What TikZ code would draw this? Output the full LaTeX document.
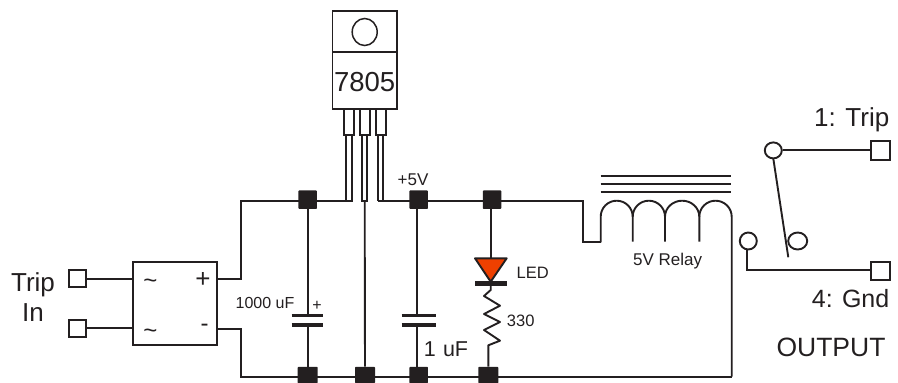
\documentclass[tikz,border=0pt]{standalone}
\usepackage{fontspec}
\usetikzlibrary{shapes.geometric}
\setmainfont{Liberation Sans}
\definecolor{ink}{HTML}{231F20}
\definecolor{ledred}{HTML}{EE4000}
\tikzset{
  wire/.style={draw=ink,line width=1.9pt,line join=miter},
  junc/.style={rectangle,fill=ink,draw=none,minimum width=#1,minimum height=18.5pt,inner sep=0pt,rounded corners=0.8pt},
  junc/.default=18.5pt,
  term/.style={rectangle,draw=ink,fill=white,line width=1.9pt,minimum width=17pt,minimum height=17pt,inner sep=0pt},
  plate/.style={draw=ink,line width=3.6pt},
  lbl/.style={text=ink,inner sep=0pt,align=center},
}
\newcommand{\fs}[1]{\fontsize{#1pt}{#1pt}\selectfont}
\begin{document}
\begin{tikzpicture}[x=1pt,y=-1pt]
\useasboundingbox (0,0) rectangle (898,383);
% coordinates
\coordinate (legM) at (364.7,201);
\coordinate (railTL) at (240.7,200.7);
\coordinate (railBL) at (240.7,376.7);
\coordinate (railTR) at (582.7,200.7);
\coordinate (coilR) at (731.7,376.7);
% regulator
\node[rectangle,draw=ink,line width=1.9pt,minimum width=64.5pt,minimum height=98.3pt,inner sep=0pt] (reg) at (364.75,59.85) {};
\coordinate (divL) at (332.5,52); \coordinate (divR) at (397,52);
\draw[wire] (divL) -- (divR);
\node[ellipse,draw=ink,line width=1.5pt,minimum width=25pt,minimum height=27pt,inner sep=0pt] (hole) at (364.7,32) {};
\node[lbl] (type) at (364.7,81.7) {\fs{27.5}7805};
% pins
\foreach \n/\x in {a/348.8,b/364.8,c/380.7}{
  \node[rectangle,draw=ink,line width=1.9pt,minimum width=9.7pt,minimum height=25.7pt,inner sep=0pt] (pin\n) at (\x,121.85) {};
}
\draw[wire] (346,134.7) -- (346,201) -- (351.7,201) -- (351.7,134.7);
\draw[wire] (362,134.7) -- (362,201) -- (367.3,201) -- (367.3,134.7);
\draw[wire] (383.3,134.7) -- (383.3,201);
\draw[wire] (378,134.7) -- (378,201);
% rails
\node[junc] (j1) at (307.7,199.7) {};
\node[junc] (j2) at (418.7,199.7) {};
\node[junc] (j3) at (492,199.7) {};
\node[junc=20pt,minimum height=16.5pt] (b1) at (307.7,375) {};
\node[junc=20pt,minimum height=16.5pt] (b2) at (365,375) {};
\node[junc=18.5pt,minimum height=16.5pt] (b3) at (418.7,375) {};
\node[junc=20pt,minimum height=16.5pt] (b4) at (488.3,375) {};
\draw[wire] (216.7,278.7) -- (240.7,278.7) -- (railTL) -- (346,200.7);
\draw[wire] (378,200.7) -- (railTR) -- (582.7,242.3) -- (600.7,242.3);
\draw[wire] (216.7,329) -- (240.7,329) -- (railBL) -- (coilR);
\draw[wire] (legM) -- (b2);
% bridge
\node[rectangle,draw=ink,line width=1.9pt,minimum width=83.4pt,minimum height=82.7pt,inner sep=0pt] (br) at (175,303.65) {};
\node[term] (t1) at (77.7,278.7) {};
\node[term] (t2) at (77.7,328.4) {};
\draw[wire] (t1) -- (br.west |- t1);
\draw[wire] (t2) -- (br.west |- t2);
\node[lbl] (tl1) at (150.5,284) {\fs{24}\char`\~};
\node[lbl] (tl2) at (150.5,334) {\fs{24}\char`\~};
\node[lbl] (pl) at (203,280) {\fs{26}+};
\node[lbl] (mi) at (204.5,328) {\fs{24}-};
\node[lbl] (trip) at (33,285) {\fs{26}Trip};
\node[lbl] (in) at (33,313) {\fs{26}In};
% 1000uF
\draw[wire] (j1) -- (307.7,315.3);
\draw[wire] (307.7,324.7) -- (b1);
\draw[plate] (291.7,315.3) -- (323.3,315.3);
\draw[plate] (291.7,324.7) -- (323.3,324.7);
\node[lbl] (c1p) at (317,306) {\fs{16}+};
\node[lbl] (c1l) at (265,302.7) {\fs{16}1000 uF};
% 1uF
\draw[wire] (417.3,208) -- (417.3,315.3);
\draw[wire] (417.3,324.7) -- (417.3,367);
\draw[plate] (401.7,315.3) -- (436,315.3);
\draw[plate] (401.7,324.7) -- (436,324.7);
\node[lbl] (c2l) at (446,349) {\fs{21.5}1\,\,uF};
\node[lbl] (v5) at (413,180) {\fs{17}+5V};
% LED
\draw[wire] (490.7,208) -- (490.7,258.3);
\draw[draw=ink,fill=ledred,line width=1.9pt,line join=round] (475,258.3) -- (506.7,258.3) -- (490.7,281.7) -- cycle;
\draw[plate,line width=4.4pt] (475,283.3) -- (506.7,283.3);
\draw[wire,line join=round] (490.7,284) -- (490.7,290) -- (484,296) -- (500,305.7) -- (484,314) -- (500,322) -- (484,330) -- (500,340.7) -- (488.3,345.3) -- (b4);
\node[lbl] (ledl) at (532.7,272.7) {\fs{16.5}LED};
\node[lbl] (rl) at (520.7,320.7) {\fs{16.5}330};
% relay
\foreach \y in {175.7,183.7,191.7}{
  \draw[draw=ink,line width=1.8pt] (600.7,\y) -- (731,\y);
}
\draw[wire,line join=round] (600.7,242.3) -- (600.7,216.7)
  arc[start angle=180,end angle=0,x radius=16pt,y radius=16pt] -- (632.7,241.7);
\draw[wire,line join=round] (632.7,216.7)
  arc[start angle=180,end angle=0,x radius=16.15pt,y radius=16pt] -- (665,241.7);
\draw[wire,line join=round] (665,216.7)
  arc[start angle=180,end angle=0,x radius=17.15pt,y radius=16pt] -- (699.3,241.7);
\draw[wire,line join=round] (699.3,216.7)
  arc[start angle=180,end angle=0,x radius=16.2pt,y radius=16pt] -- (coilR);
\node[lbl] (rel) at (667.7,261) {\fs{17}5V Relay};
% contacts
\node[ellipse,draw=ink,line width=1.9pt,minimum width=17pt,minimum height=16pt,inner sep=0pt] (ca) at (773.3,150.4) {};
\node[ellipse,draw=ink,line width=1.9pt,minimum width=19pt,minimum height=17pt,inner sep=0pt] (cb) at (797.7,241) {};
\node[ellipse,draw=ink,line width=1.9pt,minimum width=17pt,minimum height=17pt,inner sep=0pt] (cc) at (748.3,241) {};
\node[term,minimum width=18.5pt,minimum height=18.5pt] (t3) at (880.3,150.4) {};
\node[term,minimum width=18.5pt,minimum height=17.5pt] (t4) at (880.3,271) {};
\coordinate (armEnd) at (788.3,257.3);
\coordinate (cnr) at (747.3,269.7);
\draw[wire] (ca) -- (t3);
\draw[wire] (773.3,158.5) -- (armEnd);
\draw[wire] (747.3,249.5) -- (cnr) -- (t4.west |- cnr);
\node[lbl,anchor=east] (out1) at (889.5,120) {\fs{26}1: Trip};
\node[lbl,anchor=east] (out4) at (889.5,299) {\fs{25}4: Gnd};
\node[lbl] (out) at (831,347) {\fs{26.5}OUTPUT};
\end{tikzpicture}
\end{document}
